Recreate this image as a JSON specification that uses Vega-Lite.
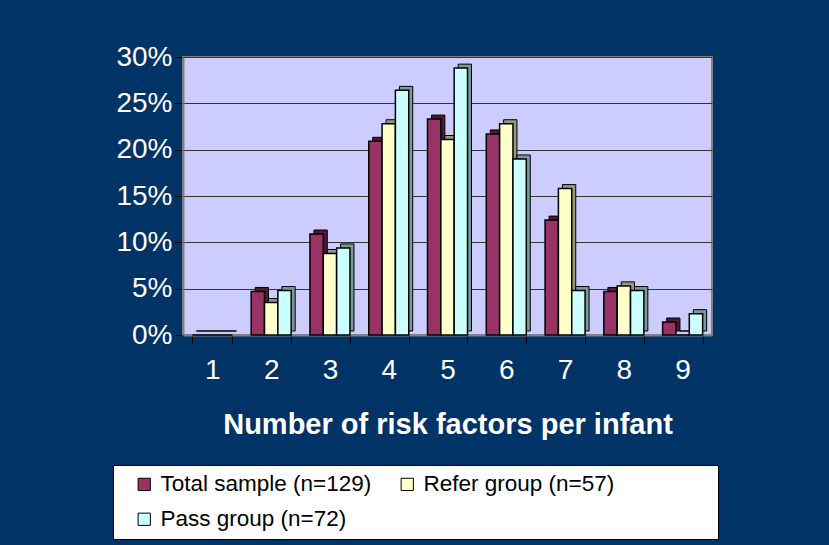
{
  "$schema": "https://vega.github.io/schema/vega-lite/v6.json",
  "width": 529,
  "height": 278,
  "autosize": {"type": "none"},
  "padding": {"left": 183, "top": 57, "right": 117, "bottom": 210},
  "background": "#003366",
  "config": {
    "font": "Liberation Sans",
    "view": {"fill": "#CCCCFF", "stroke": "#808080", "strokeWidth": 2}
  },
  "data": {
    "values": [
      {"n": "1", "group": "Total sample (n=129)", "pct": 0.0},
      {"n": "1", "group": "Refer group (n=57)", "pct": 0.0},
      {"n": "1", "group": "Pass group (n=72)", "pct": 0.0},
      {"n": "2", "group": "Total sample (n=129)", "pct": 0.047},
      {"n": "2", "group": "Refer group (n=57)", "pct": 0.035},
      {"n": "2", "group": "Pass group (n=72)", "pct": 0.048},
      {"n": "3", "group": "Total sample (n=129)", "pct": 0.109},
      {"n": "3", "group": "Refer group (n=57)", "pct": 0.088},
      {"n": "3", "group": "Pass group (n=72)", "pct": 0.094},
      {"n": "4", "group": "Total sample (n=129)", "pct": 0.209},
      {"n": "4", "group": "Refer group (n=57)", "pct": 0.228},
      {"n": "4", "group": "Pass group (n=72)", "pct": 0.264},
      {"n": "5", "group": "Total sample (n=129)", "pct": 0.233},
      {"n": "5", "group": "Refer group (n=57)", "pct": 0.211},
      {"n": "5", "group": "Pass group (n=72)", "pct": 0.288},
      {"n": "6", "group": "Total sample (n=129)", "pct": 0.217},
      {"n": "6", "group": "Refer group (n=57)", "pct": 0.228},
      {"n": "6", "group": "Pass group (n=72)", "pct": 0.19},
      {"n": "7", "group": "Total sample (n=129)", "pct": 0.124},
      {"n": "7", "group": "Refer group (n=57)", "pct": 0.158},
      {"n": "7", "group": "Pass group (n=72)", "pct": 0.048},
      {"n": "8", "group": "Total sample (n=129)", "pct": 0.047},
      {"n": "8", "group": "Refer group (n=57)", "pct": 0.053},
      {"n": "8", "group": "Pass group (n=72)", "pct": 0.048},
      {"n": "9", "group": "Total sample (n=129)", "pct": 0.014},
      {"n": "9", "group": "Refer group (n=57)", "pct": 0.0},
      {"n": "9", "group": "Pass group (n=72)", "pct": 0.023}
    ]
  },
  "encoding": {
    "x": {
      "field": "n",
      "type": "nominal",
      "scale": {"paddingInner": 0.32, "paddingOuter": 0.16},
      "axis": {
        "title": "Number of risk factors per infant",
        "titleColor": "white",
        "titleFontSize": 29,
        "titleFontWeight": "bold",
        "titlePadding": 26,
        "labelAngle": 0,
        "labelColor": "white",
        "labelFontSize": 28,
        "labelPadding": 13,
        "tickBand": "extent",
        "tickColor": "black",
        "tickSize": 8,
        "domainColor": "#808080",
        "domainWidth": 2
      }
    },
    "y": {
      "field": "pct",
      "type": "quantitative",
      "scale": {"domain": [0, 0.3], "nice": false},
      "axis": {
        "title": null,
        "values": [0, 0.05, 0.1, 0.15, 0.2, 0.25, 0.3],
        "format": ".0%",
        "labelColor": "white",
        "labelFontSize": 28,
        "labelPadding": 3,
        "tickColor": "black",
        "tickSize": 8,
        "grid": true,
        "gridColor": "#333333",
        "gridWidth": 1,
        "domainColor": "#808080",
        "domainWidth": 2
      }
    }
  },
  "layer": [
    {
      "mark": {"type": "bar", "yOffset": -4, "stroke": "black", "strokeWidth": 1},
      "encoding": {
        "xOffset": {
          "field": "group",
          "type": "nominal",
          "sort": ["Total sample (n=129)", "Refer group (n=57)", "Pass group (n=72)"],
          "scale": {"paddingInner": 0, "paddingOuter": 0, "range": [4, 44]}
        },
        "fill": {
          "field": "group",
          "type": "nominal",
          "scale": {
            "domain": ["Total sample (n=129)", "Refer group (n=57)", "Pass group (n=72)"],
            "range": ["#4d1a33", "#99997a", "#7a9999"]
          },
          "legend": null
        }
      }
    },
    {
      "mark": {"type": "bar", "stroke": "black", "strokeWidth": 1.5},
      "encoding": {
        "xOffset": {
          "field": "group",
          "type": "nominal",
          "sort": ["Total sample (n=129)", "Refer group (n=57)", "Pass group (n=72)"],
          "scale": {"paddingInner": 0, "paddingOuter": 0, "range": [0, 40]}
        },
        "color": {
          "field": "group",
          "type": "nominal",
          "sort": ["Total sample (n=129)", "Refer group (n=57)", "Pass group (n=72)"],
          "scale": {
            "domain": ["Total sample (n=129)", "Refer group (n=57)", "Pass group (n=72)"],
            "range": ["#993366", "#FFFFCC", "#CCFFFF"]
          },
          "legend": {
            "title": "________",
            "titleColor": "white",
            "titleOrient": "right",
            "titleFontSize": 21.5,
            "titlePadding": 0,
            "titleLimit": 400,
            "orient": "none",
            "direction": "horizontal",
            "legendX": -70,
            "legendY": 408,
            "columns": 2,
            "columnPadding": 12,
            "rowPadding": 12,
            "padding": 8,
            "fillColor": "white",
            "strokeColor": "black",
            "labelFontSize": 22.5,
            "labelColor": "black",
            "labelLimit": 400,
            "labelOffset": 5,
            "symbolType": "square",
            "symbolSize": 150,
            "symbolStrokeColor": "black",
            "symbolStrokeWidth": 1,
            "symbolOffset": 12
          }
        }
      }
    }
  ],
  "resolve": {"scale": {"fill": "independent", "xOffset": "independent"}}
}
